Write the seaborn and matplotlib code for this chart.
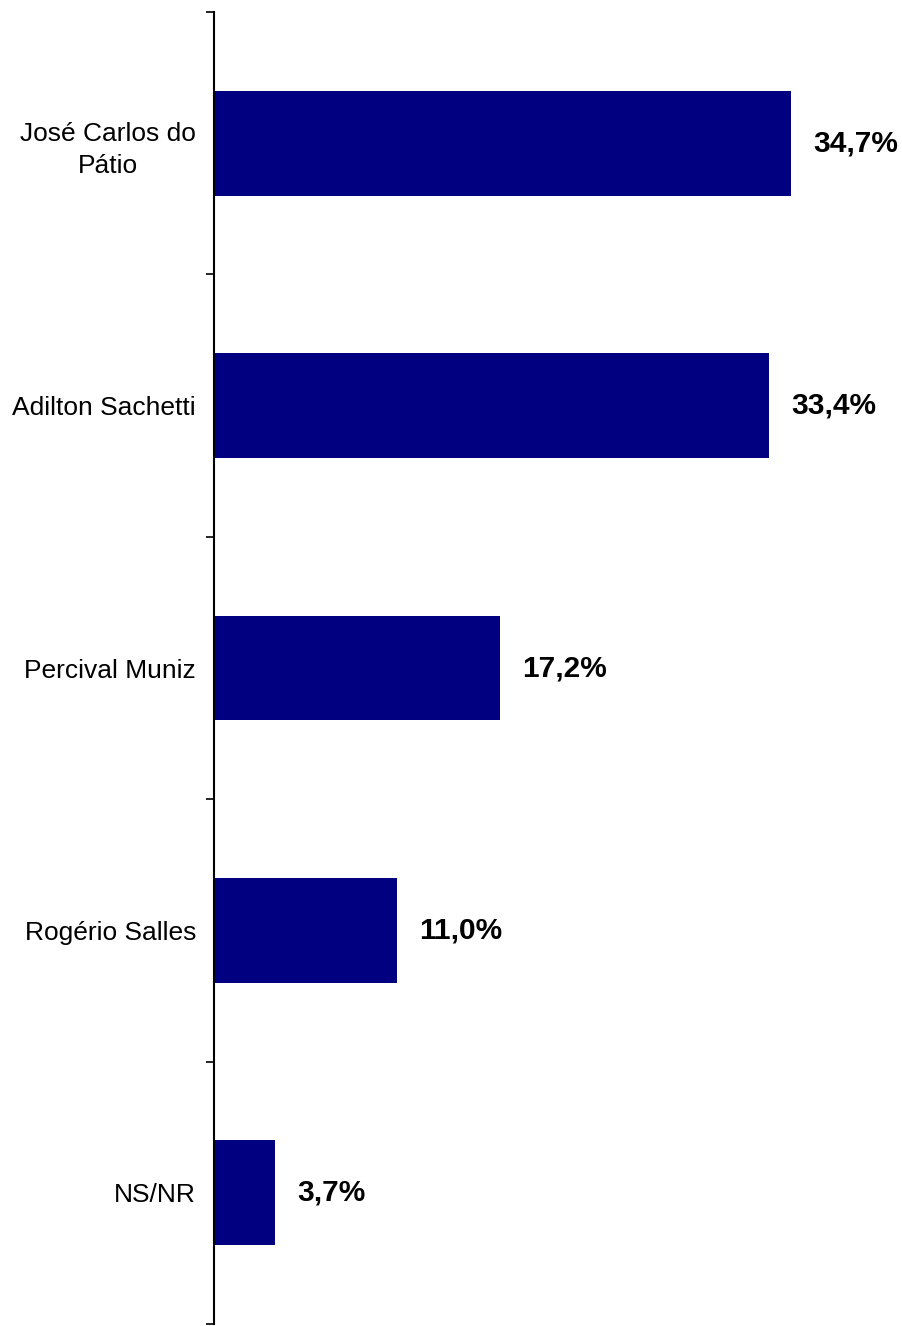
import matplotlib
matplotlib.use("Agg")
import matplotlib.pyplot as plt
import seaborn as sns
import pandas as pd

candidatos = ["José Carlos do\nPátio", "Adilton Sachetti", "Percival Muniz",
              "Rogério Salles", "NS/NR"]
percentuais = [34.7, 33.4, 17.2, 11.0, 3.7]

df = pd.DataFrame({"Candidato": candidatos, "Percentual": percentuais})

sns.set_style("white")
plt.rcParams['font.family'] = ['Liberation Sans', 'DejaVu Sans']

fig = plt.figure(figsize=(9.03, 13.26), dpi=100)
ax = fig.add_axes([214 / 903, 2 / 1326, 1 - 214 / 903, 1 - 14 / 1326])

sns.barplot(data=df, x="Percentual", y="Candidato", orient="h",
            color="#000080", saturation=1, width=0.4, linewidth=0, ax=ax)

# rotulos de valor, com virgula decimal
for i, v in enumerate(percentuais):
    ax.annotate(f"{v:.1f}%".replace(".", ","), xy=(v, i), xytext=(16, 0),
                textcoords="offset points", ha="left", va="center",
                fontsize=21.5, fontweight="bold", color="black")

ax.set_xlim(0, 689 / 16.62)
ax.set_ylim(4.5, -0.5)
ax.set_xlabel("")
ax.set_ylabel("")
ax.set_xticks([])

ax.set_yticks(range(len(candidatos)))
ax.set_yticklabels(candidatos, fontsize=19, multialignment="center", color="black")
for t in ax.get_yticklabels():
    t.set_linespacing(1.45)
ax.set_yticks([i - 0.5 for i in range(len(candidatos) + 1)], minor=True)
ax.tick_params(axis="y", which="major", length=0, pad=13)
ax.tick_params(axis="y", which="minor", length=6, width=1.2, color="black", left=True)

for s in ["top", "right", "bottom"]:
    ax.spines[s].set_visible(False)
ax.spines["left"].set_color("black")
ax.spines["left"].set_linewidth(1.5)
ax.grid(False)

fig.savefig("out.png", dpi=100)
